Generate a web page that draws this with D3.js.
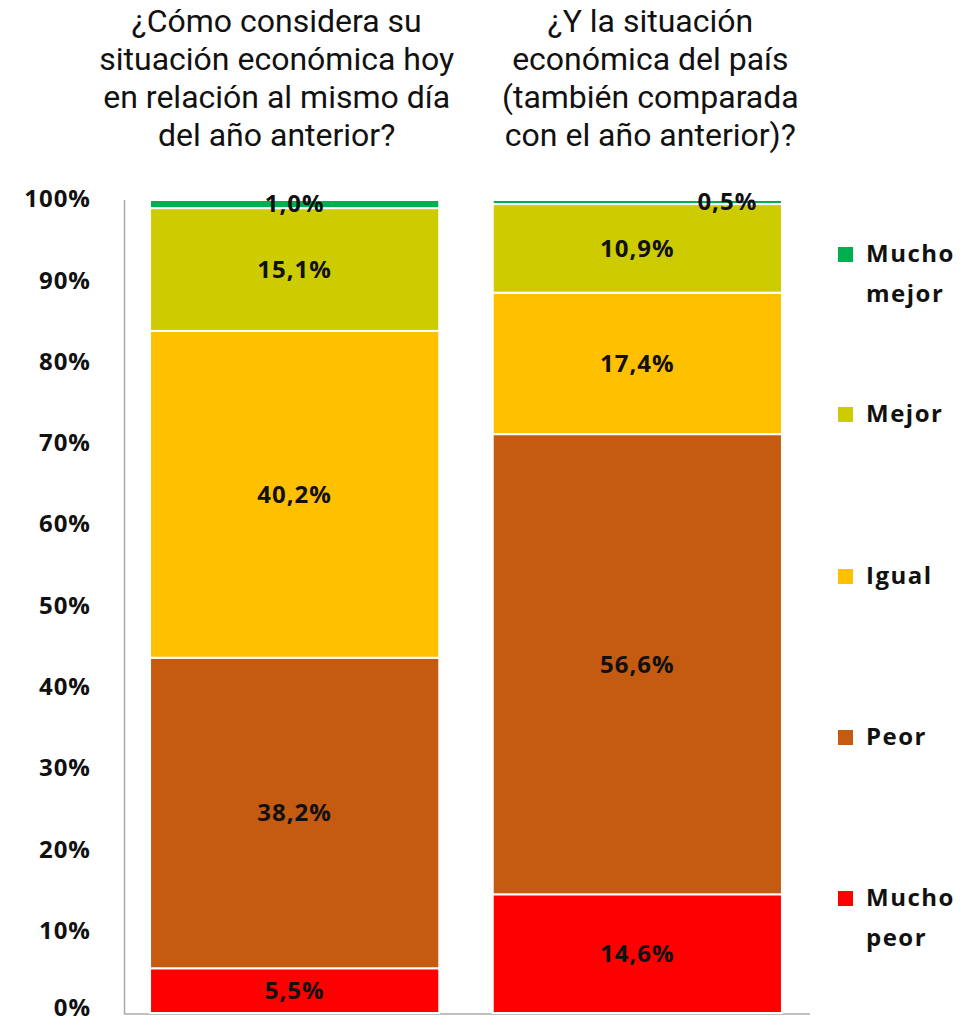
<!DOCTYPE html>
<html>
<head>
<meta charset="utf-8">
<script src="https://cdn.jsdelivr.net/npm/d3@7"></script>
<style>
  body { margin: 0; background: #fff; }
  svg { display: block; }
  .title { font-family: Roboto, "Open Sans", sans-serif; font-size: 32px; fill: #111; }
  .tick-label, .val, .leg { font-family: "Open Sans", Roboto, sans-serif; font-weight: 700; fill: #111; }
</style>
</head>
<body>
<script>
// data
var questions = ["personal", "pais"];
var titles = [
    ["¿Cómo considera su", "situación económica hoy", "en relación al mismo día", "del año anterior?"],
    ["¿Y la situación", "económica del país", "(también comparada", "con el año anterior)?"]
];
var categories = ["Mucho peor", "Peor", "Igual", "Mejor", "Mucho mejor"];
var personalValues = [5.5, 38.2, 40.2, 15.1, 1.0];
var paisValues = [14.6, 56.6, 17.4, 10.9, 0.5];
var colors = ["#ff0000", "#c55a11", "#ffc000", "#cccc00", "#00b050"];
var yTicks = [0, 10, 20, 30, 40, 50, 60, 70, 80, 90, 100];

var width = 976, height = 1025;

var svg = d3.select("body").append("svg")
    .attr("width", width)
    .attr("height", height);

var x = d3.scaleBand()
    .domain(questions)
    .range([124, 808])
    .paddingInner(0.156)
    .paddingOuter(0.076);

var y = d3.scaleLinear()
    .domain([0, 100])
    .range([1013, 200]);

var color = d3.scaleOrdinal().domain(categories).range(colors);

// build stacked rows
var rows = questions.map(function(q, i) {
    var vals = i === 0 ? personalValues : paisValues;
    var row = { q: q };
    categories.forEach(function(c, j) { row[c] = vals[j]; });
    return row;
});
var series = d3.stack().keys(categories)(rows);

// axes lines
svg.append("line")
    .attr("x1", 124.5).attr("x2", 124.5)
    .attr("y1", y(100)).attr("y2", y(0) + 1)
    .attr("stroke", "#aaa").attr("stroke-width", 1.5);
svg.append("line")
    .attr("x1", 124).attr("x2", 810)
    .attr("y1", y(0) + 1).attr("y2", y(0) + 1)
    .attr("stroke", "#aaa").attr("stroke-width", 1.5);

// tick labels (bottom one nudged up so it stays inside the page)
svg.append("g")
    .selectAll("text")
    .data(yTicks)
    .enter().append("text")
    .attr("class", "tick-label")
    .attr("x", 91)
    .attr("y", function(d) { return Math.min(y(d), 1009); })
    .attr("dy", "0.3em")
    .attr("text-anchor", "end")
    .style("font-size", "24px")
    .style("letter-spacing", "1px")
    .text(function(d) { return d + "%"; });

// bars
var layer = svg.append("g").selectAll("g")
    .data(series)
    .enter().append("g")
    .attr("fill", function(d) { return color(d.key); });

layer.selectAll("rect")
    .data(function(d) { return d; })
    .enter().append("rect")
    .attr("x", function(d) { return x(d.data.q); })
    .attr("y", function(d) { return y(d[1]); })
    .attr("width", x.bandwidth())
    .attr("height", function(d) { return y(d[0]) - y(d[1]); })
    .attr("stroke", "#fff")
    .attr("stroke-width", 2);

// value labels
series.forEach(function(s) {
    s.forEach(function(d) {
        var v = d[1] - d[0];
        var cx = x(d.data.q) + x.bandwidth() / 2;
        var cy = y((d[0] + d[1]) / 2);
        if (v < 0.8) cx += 90;
        svg.append("text")
            .attr("class", "val")
            .attr("x", cx)
            .attr("y", cy)
            .attr("dy", "0.35em")
            .attr("text-anchor", "middle")
            .style("font-size", "24px")
            .style("letter-spacing", "1px")
            .text(d3.format(".1f")(v).replace(".", ",") + "%");
    });
});

// titles
titles.forEach(function(lines, i) {
    var cx = x(questions[i]) + x.bandwidth() / 2 - (i === 0 ? 18 : 0) + (i === 1 ? 13 : 0);
    svg.append("text")
        .attr("class", "title")
        .attr("text-anchor", "middle")
        .selectAll("tspan")
        .data(lines)
        .enter().append("tspan")
        .attr("x", cx)
        .attr("y", function(d, k) { return 32 + k * 38; })
        .text(function(d) { return d; });
});

// legend
var legendItems = categories.slice().reverse();
var legendY = [254, 414, 576, 737, 898];
var leg = svg.append("g").selectAll("g")
    .data(legendItems)
    .enter().append("g")
    .attr("transform", function(d, i) { return "translate(838," + legendY[i] + ")"; });

leg.append("rect")
    .attr("x", 0).attr("y", -7)
    .attr("width", 15).attr("height", 15)
    .attr("fill", function(d) { return color(d); });

leg.append("text")
    .attr("class", "leg")
    .style("font-size", "24px")
    .style("letter-spacing", "1.5px")
    .selectAll("tspan")
    .data(function(d) { return d.split(" "); })
    .enter().append("tspan")
    .attr("x", 28)
    .attr("y", function(d, k) { return k * 40; })
    .attr("dy", "0.35em")
    .text(function(d) { return d; });
</script>
</body>
</html>
